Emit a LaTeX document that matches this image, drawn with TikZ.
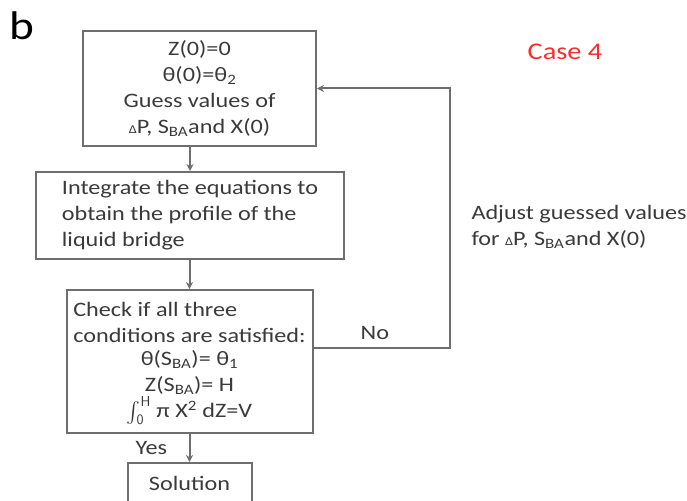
\documentclass[tikz,border=0pt]{standalone}
\usepackage{amsmath}
\usepackage{fontspec}
\setmainfont{Carlito}[FakeStretch=1.18]
\usetikzlibrary{arrows.meta,positioning,calc}
\definecolor{boxgray}{HTML}{6E6E6E}
\definecolor{txtgray}{HTML}{3A3A3A}
\definecolor{casered}{HTML}{FF2B2B}
\newcommand{\sba}{S\textsubscript{BA}}
\newcommand{\dlt}{{\fontsize{12}{12}\selectfont Δ}}
\newcommand{\bigint}{$\int_{\mathsf{0}}^{\mathsf{H}}$}

\begin{document}
\begin{tikzpicture}[x=1pt,y=-1pt,
    flowbox/.style={draw=boxgray,line width=2pt,inner sep=0pt,text=txtgray,font=\fontsize{20.5}{26}\selectfont},
    flowline/.style={draw=boxgray,line width=2pt,-{Stealth[length=7pt,width=7pt]}},
    lbl/.style={text=txtgray,font=\fontsize{20.5}{26}\selectfont}]
  \useasboundingbox (0,0) rectangle (687,500);
  \clip (0,0) rectangle (687,500);

  \node[font=\fontsize{40}{40}\selectfont] (panel) at (22,26) {b};
  \node[text=casered,font=\fontsize{24}{24}\selectfont] (case) at (565,52) {Case 4};

  % boxes
  \node[flowbox,minimum width=233,minimum height=115,align=center] (guess) at (199.5,88.5)
    {Z(0)=0\\θ(0)=θ\textsubscript{2}\\Guess values of\\\dlt P, \sba and X(0)};
  \node[flowbox,minimum width=308,minimum height=87,align=left] (integ) at (190,215.5)
    {Integrate the equations to\\obtain the profile of the\\liquid bridge};
  \node[flowbox,minimum width=246,minimum height=143,align=center] (check) at (189.5,361.5)
    {\begin{tabular}{@{}l@{}}Check if all three\\conditions are satisfied:\end{tabular}\\θ(\sba)= θ\textsubscript{1}\\Z(\sba)= H\\\bigint\ π X\textsuperscript{2} dZ=V};
  \node[flowbox,minimum width=124,minimum height=40] (sol) at (189.5,483) {Solution};

  \node[lbl,anchor=west,align=left] (adjust) at (468,227)
    {Adjust guessed values\\for \dlt P, \sba and X(0)};

  % connectors
  \coordinate (turn) at (450,348);
  \draw[flowline] (guess.south -| integ.north) -- (integ.north);
  \draw[flowline] (integ.south -| check.north) -- (check.north);
  \draw[flowline] (check.south) -- node[lbl,left=18pt] (yes) {Yes} (sol.north);
  \draw[flowline] (check.east |- turn) -- node[lbl,above=4pt,pos=0.45] (no) {No} (turn) |- (guess.east);
\end{tikzpicture}
\end{document}
